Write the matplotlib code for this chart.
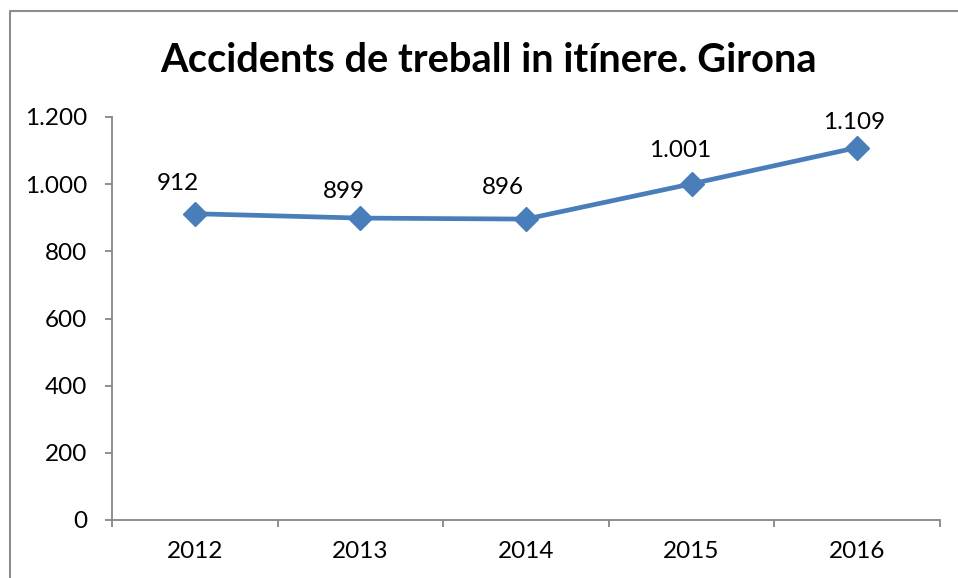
import matplotlib
matplotlib.use("Agg")
import matplotlib.pyplot as plt
from matplotlib.lines import Line2D
from matplotlib.ticker import FuncFormatter, FixedLocator

years = ["2012", "2013", "2014", "2015", "2016"]
values = [912, 899, 896, 1001, 1109]
y_ticks = [0, 200, 400, 600, 800, 1000, 1200]
title = "Accidents de treball in itínere. Girona"

FONT = ["Lato", "DejaVu Sans"]
plt.rcParams["font.family"] = FONT

def fmt(v, pos=None):
    s = f"{int(round(v)):,}".replace(",", ".")
    return s

W, H = 958, 578
fig = plt.figure(figsize=(W / 100, H / 100), dpi=100)
fig.patch.set_facecolor("white")

ax = fig.add_axes([112 / W, 1 - 520 / H, (940 - 112) / W, (520 - 117) / H])
x = list(range(len(years)))
line_color = "#4A7EBB"
ax.plot(x, values, color=line_color, lw=3.4, marker="D", markersize=12,
        markerfacecolor=line_color, markeredgecolor=line_color, solid_capstyle="round")

# data labels (offsets in points, styling only)
label_offsets = [(-12, 22), (-12, 19), (-17, 23), (-8, 24), (-2, 18)]
for xi, v, (dx, dy) in zip(x, values, label_offsets):
    ax.annotate(fmt(v), (xi, v), xytext=(dx, dy), textcoords="offset points",
                ha="center", va="center", fontsize=17.5, color="black")

ax.set_xlim(-0.5, len(years) - 0.5)
ax.set_ylim(0, 1200)
ax.set_yticks(y_ticks)
ax.yaxis.set_major_formatter(FuncFormatter(fmt))
ax.set_xticks(x)
ax.set_xticklabels(years)
ax.xaxis.set_minor_locator(FixedLocator([i - 0.5 for i in range(len(years) + 1)]))

spine_c = "#868686"
for s in ["top", "right"]:
    ax.spines[s].set_visible(False)
for s in ["left", "bottom"]:
    ax.spines[s].set_color(spine_c)
    ax.spines[s].set_linewidth(1.3)
ax.tick_params(axis="y", direction="out", length=5, width=1.3, color=spine_c,
               labelsize=17.5, pad=13)
ax.tick_params(axis="x", which="major", length=0, labelsize=17.5, pad=15)
ax.tick_params(axis="x", which="minor", direction="out", length=5, width=1.3, color=spine_c)

fig.text(489 / W, 1 - 60 / H, title, ha="center", va="center",
         fontsize=28.7, fontweight="bold", color="black")

# outer chart border (top and left visible)
bx, by = 9.5 / W, 1 - 11 / H
fig.add_artist(Line2D([bx, bx, 1.0], [0.0, by, by], transform=fig.transFigure,
                      color="#8C8C8C", lw=1.5))

fig.savefig("out.png", dpi=100, facecolor="white")
